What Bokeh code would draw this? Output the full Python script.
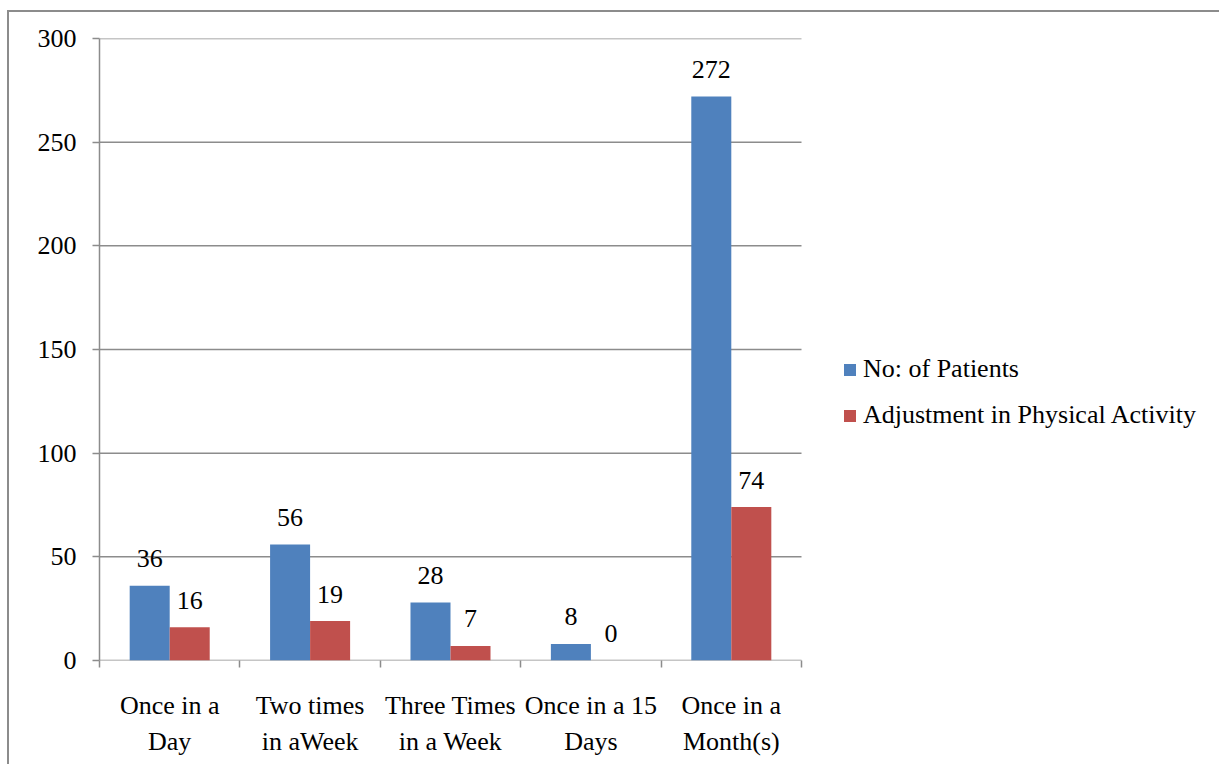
from bokeh.plotting import figure
from bokeh.models import (ColumnDataSource, FixedTicker, Legend, LegendItem,
                          Range1d)
from bokeh.core.properties import value
from bokeh.embed import file_html
from bokeh.resources import INLINE

# Visit frequency categories and counts
categories = ["Once in a\nDay", "Two times\nin aWeek", "Three Times\nin a Week",
              "Once in a 15\nDays", "Once in a\nMonth(s)"]
patients = [36, 56, 28, 8, 272]
adjustment = [16, 19, 7, 0, 74]
series_names = ["No: of Patients", "Adjustment in Physical Activity"]
y_ticks = [0, 50, 100, 150, 200, 250, 300]

FONT = "Liberation Serif"
FS = "26px"
BLUE = "#4F81BD"
RED = "#C0504D"
GRID = "#8c8c8c"

# canvas origin sits inside the outer border (margin + border width)
OX, OY = 9, 12

n = len(categories)
centers = [i + 0.5 for i in range(n)]
bar_w = 0.285

src_a = ColumnDataSource(dict(x=[c - bar_w / 2 for c in centers], y=patients,
                              lab=[str(v) for v in patients]))
src_b = ColumnDataSource(dict(x=[c + bar_w / 2 for c in centers], y=adjustment,
                              lab=[str(v) for v in adjustment]))
grid_src = ColumnDataSource(dict(x0=[0] * len(y_ticks), x1=[n] * len(y_ticks),
                                 y=y_ticks))

W, H = 1212, 754
plot_left, plot_right = 99 - OX, 801 - OX   # bar area in canvas pixels
frame_right = W                              # frame also hosts the legend
x_max = n * (frame_right - plot_left) / (plot_right - plot_left)

p = figure(width=W, height=H, output_backend="svg", toolbar_location=None,
           x_range=Range1d(0, x_max), y_range=Range1d(0, 300),
           min_border_left=plot_left, min_border_right=0,
           min_border_top=38 - OY, min_border_bottom=H - (660 - OY))
p.margin = (10, 0, 0, 7)
p.styles = {"border-top": f"2px solid {GRID}", "border-left": f"2px solid {GRID}"}
p.outline_line_color = None
p.background_fill_color = "white"
p.border_fill_color = "white"
p.xgrid.grid_line_color = None
p.ygrid.grid_line_color = None

# horizontal gridlines and baseline, limited to the bar area
p.segment(x0="x0", x1="x1", y0="y", y1="y", source=grid_src,
          line_color=GRID, line_width=1.5, level="underlay")

r_a = p.vbar(x="x", top="y", width=bar_w, source=src_a, fill_color=BLUE,
             line_color=None)
r_b = p.vbar(x="x", top="y", width=bar_w, source=src_b, fill_color=RED,
             line_color=None)

for src in (src_a, src_b):
    p.text(x="x", y="y", text="lab", source=src, y_offset=-27,
           text_align="center", text_baseline="alphabetic",
           text_font=value(FONT), text_font_size=FS, text_color="black")

# y axis
p.yaxis.ticker = FixedTicker(ticks=y_ticks)
p.yaxis.axis_line_color = GRID
p.yaxis.axis_line_width = 1.5
p.yaxis.major_tick_line_color = GRID
p.yaxis.major_tick_line_width = 1.5
p.yaxis.major_tick_in = 0
p.yaxis.major_tick_out = 7
p.yaxis.minor_tick_line_color = None
p.yaxis.major_label_standoff = 16
p.yaxis.major_label_text_font = FONT
p.yaxis.major_label_text_font_size = FS
p.yaxis.major_label_text_color = "black"

# x axis: labels at category centres, tick marks at category boundaries
p.xaxis.ticker = FixedTicker(ticks=centers, minor_ticks=list(range(n + 1)))
p.xaxis.major_label_overrides = {c: lab for c, lab in zip(centers, categories)}
p.xaxis.axis_line_color = None
p.xaxis.major_tick_line_color = None
p.xaxis.minor_tick_line_color = GRID
p.xaxis.minor_tick_line_width = 1.5
p.xaxis.minor_tick_in = 0
p.xaxis.minor_tick_out = 7
p.xaxis.major_label_standoff = 23
p.xaxis.major_label_text_font = FONT
p.xaxis.major_label_text_font_size = FS
p.xaxis.major_label_text_color = "black"
p.xaxis.major_label_text_line_height = 1.25

legend = Legend(items=[LegendItem(label=series_names[0], renderers=[r_a]),
                       LegendItem(label=series_names[1], renderers=[r_b])],
                location=(843 - 99 - 1, 230), orientation="vertical",
                glyph_width=15, glyph_height=15, label_standoff=6,
                spacing=16, padding=0, margin=0,
                border_line_color=None, background_fill_alpha=0,
                label_text_font=FONT, label_text_font_size=FS,
                label_text_color="black")
p.add_layout(legend)

open("out.html", "w").write(file_html(p, INLINE))
